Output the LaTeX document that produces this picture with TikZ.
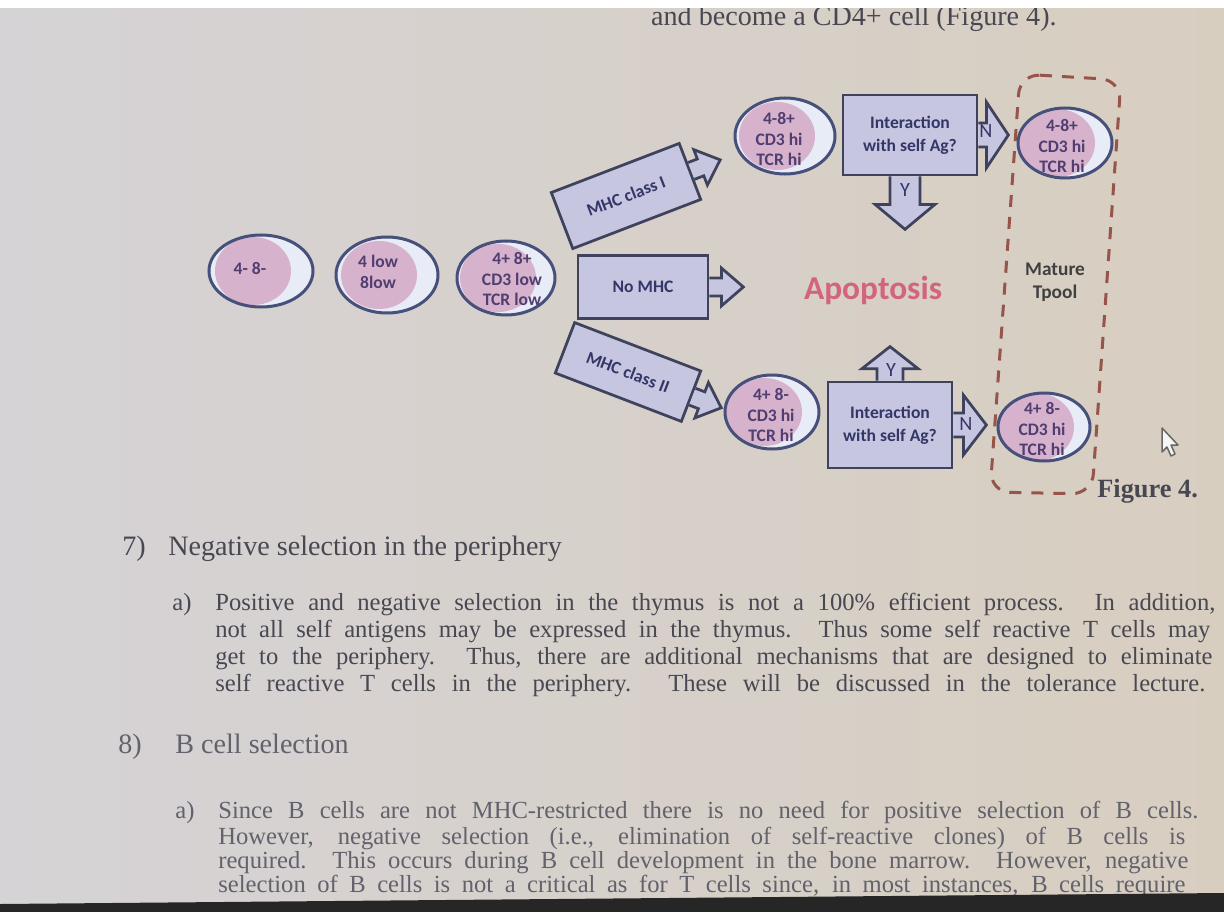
\documentclass[tikz,border=0pt]{standalone}
\usepackage{fontspec}
\setmainfont{Liberation Serif}
\newfontfamily\diagfont{Carlito}
\usepackage{tikz}
\usetikzlibrary{shapes.geometric}

\definecolor{pageleft}{RGB}{214,211,214}
\definecolor{pagemid}{RGB}{240,237,232}
\definecolor{pageright}{RGB}{216,206,192}
\definecolor{boxfill}{RGB}{198,198,224}
\definecolor{boxline}{RGB}{62,66,92}
\definecolor{cellrim}{RGB}{70,80,122}
\definecolor{cellwhite}{RGB}{232,236,246}
\definecolor{cellpink}{RGB}{214,178,204}
\definecolor{cellink}{RGB}{80,62,112}
\definecolor{boxink}{RGB}{52,54,104}
\definecolor{apopred}{RGB}{210,100,128}
\definecolor{poolline}{RGB}{150,84,74}
\definecolor{printink}{RGB}{72,72,82}
\definecolor{fadeink}{RGB}{98,98,108}

\begin{document}
\begin{tikzpicture}[x=0.2mm, y=-0.2mm,
  cell/.style={ellipse, draw=cellrim, line width=0.6mm, fill=cellwhite, inner sep=0pt,
    path picture={\fill[cellpink] ([xshift=-1.6mm]path picture bounding box.center) ellipse [x radius=38, y radius=34];}},
  celltxt/.style={font=\diagfont\bfseries\fontsize{10}{11.5}\selectfont, text=cellink, align=center, inner sep=0pt},
  mhcbox/.style={draw=boxline, line width=0.55mm, fill=boxfill, text=boxink, align=center,
    font=\diagfont\bfseries\fontsize{10}{13}\selectfont},
  yn/.style={font=\diagfont\fontsize{11.5}{12}\selectfont, text=boxink, inner sep=0pt},
  bodytxt/.style={font=\fontsize{14}{15}\selectfont, text=printink, inner sep=0pt, anchor=base west},
  headtxt/.style={bodytxt, font=\fontsize{16}{17}\selectfont},
  pics/barrow/.style n args={4}{code={
    \draw[boxline, line width=0.55mm, fill=boxfill] (0,-#2) -- (#1,-#2) -- (#1,-#4) -- (#1+#3,0) -- (#1,#4) -- (#1,#2) -- (0,#2);}}]
  \useasboundingbox (0,0) rectangle (1224,912);
  % page of the photo
  \shade[left color=pageleft, middle color=pagemid, right color=pageright] (0,0) rectangle (1224,912);
  \node[headtxt, anchor=base east] (topline) at (1057,26) {and become a CD4+ cell (Figure 4).};
  \fill[white] (0,0) rectangle (1224,8);

  % cells before the choice
  \node[cell, minimum width=20.8mm, minimum height=14.4mm] (dn) at (261,271) {};
  \node[celltxt] (dnt) at (250,268) {4- 8-};
  \node[cell, minimum width=20.4mm, minimum height=15.2mm] (lo) at (387,275) {};
  \node[celltxt] (lot) at (378,272) {4 low\\8low};
  \node[cell, minimum width=19.6mm, minimum height=14.8mm] (dp) at (506,278) {};
  \node[celltxt] (dpt) at (512,279) {4+ 8+\\CD3 low\\TCR low};

  % three ways out
  \node[mhcbox, rotate=21, minimum width=27.4mm, minimum height=12mm] (mhcone) at (626,196) {MHC class I};
  \pic[rotate=21] at (mhcone.east) {barrow={10}{9}{21}{19}};
  \node[mhcbox, minimum width=26mm, minimum height=12.6mm] (nomhc) at (643,287) {No MHC};
  \pic at (nomhc.east) {barrow={12}{9}{22}{19}};
  \node[mhcbox, rotate=-21, minimum width=27mm, minimum height=10.8mm] (mhctwo) at (628,372) {MHC class II};
  \pic[rotate=-21] at (mhctwo.east) {barrow={10}{9}{21}{19}};

  \node[cell, minimum width=20mm, minimum height=15.2mm] (cdt) at (785,136) {};
  \node[celltxt] (cdtt) at (779,139) {4-8+\\CD3 hi\\TCR hi};
  \node[cell, minimum width=18.8mm, minimum height=14.8mm] (cdb) at (772,412) {};
  \node[celltxt] (cdbt) at (771,415) {4+ 8-\\CD3 hi\\TCR hi};

  % self antigen check
  \node[mhcbox, minimum width=26.8mm, minimum height=16mm] (inttop) at (910,135) {Interaction\\with self Ag?};
  \pic at (inttop.east) {barrow={8}{12}{22}{33}};
  \pic[rotate=-90] at ([xshift=-1mm]inttop.south) {barrow={28}{15}{25}{30}};
  \node[yn] (ntop) at (986,131) {N};
  \node[yn] (ytop) at (905,190) {Y};
  \node[mhcbox, minimum width=24.8mm, minimum height=17.2mm] (intbot) at (890,425) {Interaction\\with self Ag?};
  \pic at (intbot.east) {barrow={10}{12}{23}{30}};
  \pic[rotate=90] at (intbot.north) {barrow={12}{13}{22}{28}};
  \node[yn] (nbot) at (966,424) {N};
  \node[yn] (ybot) at (891,370) {Y};

  \node[font=\diagfont\bfseries\fontsize{19}{20}\selectfont, text=apopred] (apop) at (873,290) {Apoptosis};

  % mature pool
  \draw[poolline, line width=0.6mm, dash pattern=on 2.4mm off 2mm, rounded corners=4mm]
    (1020,74) -- (1121,80) -- (1092,494) -- (990,492) -- cycle;
  \node[cell, minimum width=18.8mm, minimum height=14mm] (mt) at (1065,143) {};
  \node[celltxt] (mtt) at (1062,146) {4-8+\\CD3 hi\\TCR hi};
  \node[cell, minimum width=18.4mm, minimum height=13.6mm] (mb) at (1044,427) {};
  \node[celltxt] (mbt) at (1042,429) {4+ 8-\\CD3 hi\\TCR hi};
  \node[font=\diagfont\bfseries\fontsize{11}{13}\selectfont, text=black!75, align=center] (pool) at (1055,282) {Mature\\Tpool};
  \node[bodytxt, font=\bfseries\fontsize{15}{16}\selectfont] (fig) at (1097,497) {Figure 4.};
  \draw[black!60, fill=white!92!gray, line width=0.3mm, line join=round]
    (1162,428) -- (1162,452) -- (1167,447) -- (1171,456) -- (1175,454) -- (1171,445) -- (1178,445) -- cycle;

  % text under the figure
  \node[headtxt] (n7) at (122,555) {7)};
  \node[headtxt] (h7) at (168,555) {Negative selection in the periphery};
  \node[bodytxt] (a7) at (172,610) {a)};
  \foreach \yy/\ww/\tt [count=\i] in {610/200/{Positive and negative selection in the thymus is not a 100\% efficient process.  In addition,},
      637/199/{not all self antigens may be expressed in the thymus.  Thus some self reactive T cells may},
      664/199.4/{get to the periphery.  Thus, there are additional mechanisms that are designed to eliminate},
      691/198/{self reactive T cells in the periphery.  These will be discussed in the tolerance lecture.}}
    \node[bodytxt] (pa\i) at (215,\yy) {\makebox[\ww mm][s]{\tt}};
  \node[headtxt, text=fadeink] (n8) at (118,753) {8)};
  \node[headtxt, text=fadeink] (h8) at (175,753) {B cell selection};
  \node[bodytxt, text=fadeink] (a8) at (175,818) {a)};
  \foreach \yy/\ww/\tt [count=\i] in {818/196/{Since B cells are not MHC-restricted there is no need for positive selection of B cells.},
      844/193.4/{However, negative selection (i.e., elimination of self-reactive clones) of B cells is},
      868/194/{required.  This occurs during B cell development in the bone marrow.  However, negative},
      892/193.4/{selection of B cells is not a critical as for T cells since, in most instances, B cells require}}
    \node[bodytxt, text=fadeink] (pb\i) at (218,\yy) {\makebox[\ww mm][s]{\tt}};
  \fill[black!85] (0,904) -- (1224,893) -- (1224,912) -- (0,912) -- cycle;
\end{tikzpicture}
\end{document}
